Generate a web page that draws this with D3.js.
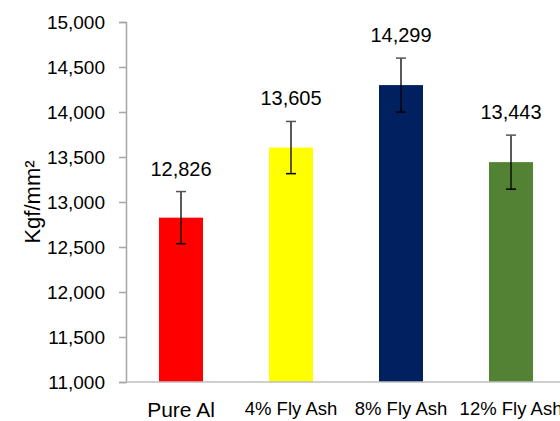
<!DOCTYPE html>
<html><head><meta charset="utf-8">
<script src="https://cdn.jsdelivr.net/npm/d3@7"></script>
<style>body{margin:0;background:#fff}svg{display:block}text{font-family:"Liberation Sans",Arial,sans-serif;fill:#000}</style>
</head><body><svg id="c" width="560" height="421"></svg>
<script>
const categories = ["Pure Al", "4% Fly Ash", "8% Fly Ash", "12% Fly Ash"];
const values = [12826, 13605, 14299, 13443];
const errors = [290, 290, 300, 300];
const colors = ["#ff0000", "#ffff00", "#002060", "#548235"];
const yTicks = [11000, 11500, 12000, 12500, 13000, 13500, 14000, 14500, 15000];
const yTitle = "Kgf/mm²";

const svg = d3.select("#c");
const x0 = 126, yTop = 22, yBot = 382;
const x = d3.scaleBand().domain(categories).range([x0, x0 + 440]).paddingInner(0.6).paddingOuter(0.3);
const y = d3.scaleLinear().domain([11000, 15000]).range([yBot, yTop]);
const fmt = d3.format(",");

// y axis
const ya = svg.append("g").attr("transform", `translate(${x0},0)`)
  .call(d3.axisLeft(y).tickValues(yTicks).tickFormat(fmt).tickSize(7).tickPadding(14));
ya.select(".domain").attr("stroke", "#a6a6a6").attr("stroke-width", 1.5);
ya.selectAll(".tick line").attr("stroke", "#a6a6a6").attr("stroke-width", 1.5);
ya.selectAll(".tick text").attr("font-size", 19).attr("font-family", "Liberation Sans, Arial, sans-serif").attr("fill", "#000");

// bars
svg.append("g").selectAll("rect").data(categories).join("rect")
  .attr("x", d => x(d)).attr("width", x.bandwidth())
  .attr("y", (d, i) => y(values[i])).attr("height", (d, i) => y(11000) - y(values[i]))
  .attr("fill", (d, i) => colors[i]);

// x axis
const xa = svg.append("g").attr("transform", `translate(0,${yBot})`)
  .call(d3.axisBottom(x).tickSize(0).tickPadding(20));
xa.select(".domain").attr("stroke", "#bfbfbf").attr("stroke-width", 1.5).attr("d", `M${x0},0H560`);
xa.selectAll(".tick text").attr("font-size", (d, i) => i === 0 ? 21 : 18.5)
  .attr("font-family", "Liberation Sans, Arial, sans-serif").attr("fill", "#000");

// error bars
const eb = svg.append("g").selectAll("g").data(categories).join("g")
  .attr("transform", d => `translate(${x(d) + x.bandwidth() / 2},0)`);
eb.append("line").attr("y1", (d, i) => y(values[i] + errors[i])).attr("y2", (d, i) => y(values[i] - errors[i]))
  .attr("stroke", "#000").attr("stroke-width", 1.3);
eb.append("line").attr("x1", -5).attr("x2", 5).attr("y1", (d, i) => y(values[i] + errors[i])).attr("y2", (d, i) => y(values[i] + errors[i]))
  .attr("stroke", "#555").attr("stroke-width", 1.5);
eb.append("line").attr("x1", -5).attr("x2", 5).attr("y1", (d, i) => y(values[i] - errors[i])).attr("y2", (d, i) => y(values[i] - errors[i]))
  .attr("stroke", "#000").attr("stroke-width", 1.5);

// value labels
svg.append("g").selectAll("text").data(categories).join("text")
  .attr("x", d => x(d) + x.bandwidth() / 2)
  .attr("y", (d, i) => y(values[i] + errors[i]) - 16)
  .attr("text-anchor", "middle").attr("font-size", 20)
  .text((d, i) => fmt(values[i]));

// y title
svg.append("text").attr("transform", `translate(40,${(yTop + yBot) / 2}) rotate(-90)`)
  .attr("text-anchor", "middle").attr("font-size", 22).text(yTitle);
</script></body></html>
